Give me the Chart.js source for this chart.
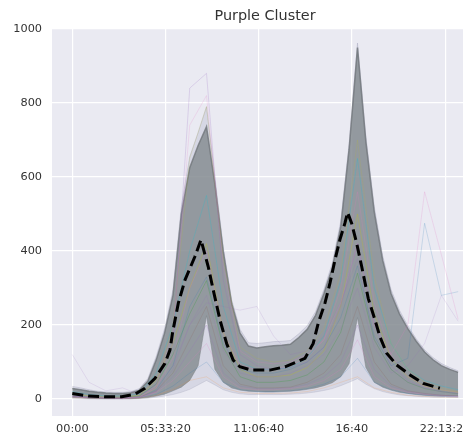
<!DOCTYPE html>
<html>
<head>
<meta charset="utf-8">
<script src="https://cdn.jsdelivr.net/npm/chart.js@4.4.0/dist/chart.umd.min.js"></script>
<style>
  html, body { margin: 0; padding: 0; overflow: hidden; background: #fff; }
</style>
</head>
<body>
<canvas id="chart" width="478" height="439"></canvas>
<script>
// hour of day for single profiles (x axis itself is in seconds)
const hours = [0, 1, 2, 3, 4, 5, 6, 7, 8, 9, 10, 11, 12, 13, 14, 15, 16, 17, 18, 19, 20, 21, 22, 23];
// half-hour grid used for the envelopes of the grey mass
const halfHours = [0, 0.5, 1, 1.5, 2, 2.5, 3, 3.5, 4, 4.5, 5, 5.5, 6, 6.5, 7, 7.5, 8, 8.5, 9, 9.5, 10, 10.5, 11, 11.5,
  12, 12.5, 13, 13.5, 14, 14.5, 15, 15.5, 16, 16.5, 17, 17.5, 18, 18.5, 19, 19.5, 20, 20.5, 21, 21.5, 22, 22.5, 23];

// the grey mass of profiles, as envelopes
const outerUpper = [34, 30, 25, 21, 19, 18, 18, 20, 28, 55, 115, 190, 295, 520, 655, 720, 790, 600, 410, 268, 188, 152, 150, 152,
  155, 156, 158, 176, 198, 236, 296, 368, 480, 690, 962, 710, 520, 388, 296, 240, 198, 163, 133, 112, 96, 85, 76];
const outerLower = [2, 1, 0, 0, 0, 0, 0, 0, 1, 2, 5, 8, 12, 18, 26, 38, 50, 38, 25, 18, 14, 12, 12, 12,
  12, 12, 13, 14, 16, 19, 23, 28, 36, 45, 55, 40, 28, 20, 15, 11, 9, 7, 6, 5, 5, 5, 5];
const coreUpper = [28, 25, 21, 18, 16, 15, 15, 17, 24, 48, 105, 178, 280, 500, 625, 685, 736, 580, 398, 258, 178, 143, 138, 141,
  144, 145, 148, 166, 188, 226, 285, 355, 465, 675, 950, 695, 505, 375, 285, 230, 190, 156, 127, 106, 90, 80, 72];
const coreLower = [5, 4, 2, 1, 1, 1, 1, 1, 2, 4, 8, 13, 22, 32, 50, 90, 225, 80, 45, 30, 24, 21, 20, 19,
  19, 20, 21, 23, 26, 30, 36, 44, 60, 95, 220, 85, 45, 32, 24, 18, 15, 12, 10, 9, 8, 8, 8];

// single faint profiles (hourly)
const hiA = [8, 5, 3, 3, 6, 40, 150, 840, 880, 320, 120, 90, 80, 85, 100, 140, 250, 420, 200, 90, 50, 30, 20, 15];
const hiB = [6, 4, 3, 2, 5, 35, 180, 740, 820, 360, 130, 100, 95, 100, 120, 160, 300, 560, 260, 120, 60, 35, 25, 18];
const hiC = [5, 3, 2, 2, 4, 30, 200, 650, 790, 380, 140, 110, 100, 105, 130, 190, 340, 700, 330, 150, 80, 45, 30, 20];
const evA = [10, 6, 4, 3, 5, 30, 110, 300, 400, 180, 90, 80, 80, 90, 110, 160, 260, 420, 200, 120, 200, 560, 390, 215];
const evB = [8, 5, 3, 3, 5, 25, 90, 250, 330, 150, 80, 70, 70, 80, 100, 140, 220, 360, 170, 90, 110, 475, 280, 290];
const evC = [6, 4, 3, 2, 4, 20, 80, 200, 280, 130, 70, 60, 60, 70, 90, 120, 190, 300, 140, 70, 90, 150, 280, 210];
const startA = [120, 45, 22, 30, 12, 30, 90, 200, 260, 250, 240, 250, 170, 120, 130, 170, 260, 380, 160, 80, 45, 30, 20, 15];
const lowA = [4, 2, 1, 1, 3, 12, 35, 70, 100, 45, 25, 20, 20, 22, 28, 40, 60, 110, 45, 25, 15, 10, 7, 5];
const lowB = [6, 3, 2, 2, 4, 18, 50, 100, 150, 60, 30, 25, 25, 28, 35, 50, 80, 160, 60, 30, 18, 12, 8, 6];
const lowC = [5, 3, 2, 1, 4, 20, 60, 130, 200, 70, 35, 28, 28, 30, 40, 60, 100, 200, 80, 35, 20, 14, 10, 7];
const lowD = [3, 2, 1, 1, 2, 10, 25, 50, 60, 30, 18, 15, 15, 16, 20, 30, 45, 60, 30, 18, 10, 7, 5, 4];
const lowE = [7, 4, 2, 2, 5, 22, 70, 160, 250, 90, 40, 30, 30, 32, 45, 70, 120, 250, 100, 40, 22, 15, 10, 8];
const midA = [15, 8, 5, 5, 10, 50, 150, 300, 420, 180, 80, 60, 60, 65, 85, 130, 250, 500, 230, 110, 60, 35, 25, 18];
const midB = [20, 12, 8, 8, 14, 70, 200, 400, 550, 250, 100, 80, 80, 85, 110, 170, 320, 650, 300, 150, 80, 50, 35, 25];
const midC = [10, 6, 4, 4, 8, 40, 120, 230, 320, 140, 60, 45, 45, 50, 65, 100, 180, 340, 160, 80, 45, 28, 20, 14];

// cluster mean (dashed black line)
const meanHours = [0, 0.95, 1.95, 2.94, 3.74, 4.33, 4.93, 5.52, 5.82, 5.98, 6.32, 6.72, 7.31, 7.67, 8.1, 8.4, 8.8, 9.2, 9.59, 9.99, 10.69, 11.78, 12.68, 13.87, 14.36, 14.66, 15.06, 15.36, 15.66, 15.95, 16.25, 16.41, 16.65, 16.95, 17.25, 17.64, 18.04, 18.34, 18.74, 19.33, 20.13, 20.92, 21.91];
const meanValues = [15, 8, 6, 6, 13, 29, 56, 96, 132, 180, 259, 322, 385, 430, 358, 295, 214, 150, 105, 87, 78, 78, 87, 110, 150, 205, 259, 313, 376, 430, 475, 504, 475, 421, 358, 272, 214, 168, 124, 92, 65, 42, 29];

// axis ticks (seconds shown as time of day)
const xTickValues = [0, 20000, 40000, 60000, 80000];
const xTickLabels = ['00:00', '05:33:20', '11:06:40', '16:40', '22:13:20'];
const yTickValues = [0, 200, 400, 600, 800, 1000];

const toPts = (xs, ys) => ys.map((v, i) => ({ x: xs[i] * 3600, y: v }));

const faint = [
  [hiA, 'rgba(148,103,189,0.22)'],
  [hiB, 'rgba(227,119,194,0.18)'],
  [hiC, 'rgba(188,189,34,0.15)'],
  [evA, 'rgba(227,119,194,0.2)'],
  [evB, 'rgba(31,119,180,0.18)'],
  [evC, 'rgba(148,103,189,0.15)'],
  [startA, 'rgba(148,103,189,0.15)'],
  [lowA, 'rgba(31,119,180,0.18)'],
  [lowB, 'rgba(227,119,194,0.2)'],
  [lowC, 'rgba(148,103,189,0.2)'],
  [lowD, 'rgba(255,127,14,0.15)'],
  [lowE, 'rgba(140,86,75,0.18)'],
  [midA, 'rgba(188,189,34,0.3)'],
  [midB, 'rgba(23,190,207,0.25)'],
  [midC, 'rgba(44,160,44,0.25)']
];

const datasets = [
  { data: toPts(halfHours, outerLower), borderColor: 'rgba(150,150,175,0.25)', borderWidth: 1, order: 5 },
  { data: toPts(halfHours, outerUpper), borderColor: 'rgba(150,150,175,0.3)', borderWidth: 1, order: 5,
    fill: { target: 0 }, backgroundColor: 'rgba(170,172,195,0.3)' },
  { data: toPts(halfHours, coreLower), borderColor: 'rgba(125,131,135,0.5)', borderWidth: 1, order: 4 },
  { data: toPts(halfHours, coreUpper), borderColor: 'rgba(112,118,122,0.8)', borderWidth: 1.5, order: 4,
    fill: { target: 2 }, backgroundColor: 'rgba(130,137,141,0.8)' }
];
faint.forEach(([vals, col]) => {
  datasets.push({ data: toPts(hours, vals), borderColor: col, borderWidth: 1, order: 2 });
});
datasets.push({
  data: toPts(meanHours, meanValues), borderColor: '#000', borderWidth: 3,
  borderDash: [11, 5], borderCapStyle: 'butt', order: 0
});

const plotBg = {
  id: 'plotBg',
  beforeDraw(chart) {
    const { ctx, chartArea: a } = chart;
    ctx.save();
    ctx.fillStyle = '#EAEAF2';
    ctx.fillRect(a.left, a.top, a.right - a.left, a.bottom - a.top);
    ctx.restore();
  }
};

const tickFont = { family: 'DejaVu Sans', size: 11.3 };

new Chart(document.getElementById('chart').getContext('2d'), {
  type: 'line',
  data: { datasets },
  plugins: [plotBg],
  options: {
    responsive: false,
    animation: false,
    events: [],
    elements: { point: { radius: 0 }, line: { tension: 0 } },
    layout: { padding: 0 },
    plugins: {
      legend: { display: false },
      tooltip: { enabled: false },
      title: {
        display: true, text: 'Purple Cluster', fullSize: false,
        color: '#333', font: { family: 'DejaVu Sans', size: 14.4, weight: 'normal' },
        padding: { top: 7.5, bottom: 3.2 }
      }
    },
    scales: {
      x: {
        type: 'linear', min: -4356, max: 87060,
        afterBuildTicks: s => { s.ticks = xTickValues.map(v => ({ value: v })); },
        afterFit: s => { s.height = 23; },
        ticks: { callback: (v, i) => xTickLabels[i], color: '#333', font: tickFont, padding: 6, maxRotation: 0 },
        grid: { color: '#ffffff', lineWidth: 1.2, drawTicks: false },
        border: { display: false }
      },
      y: {
        type: 'linear', min: -46, max: 1002.6,
        afterBuildTicks: s => { s.ticks = yTickValues.map(v => ({ value: v })); },
        afterFit: s => { s.width = 52; },
        ticks: { callback: v => String(v), color: '#333', font: tickFont, padding: 10 },
        grid: { color: '#ffffff', lineWidth: 1.2, drawTicks: false },
        border: { display: false }
      }
    }
  }
});
</script>
</body>
</html>
